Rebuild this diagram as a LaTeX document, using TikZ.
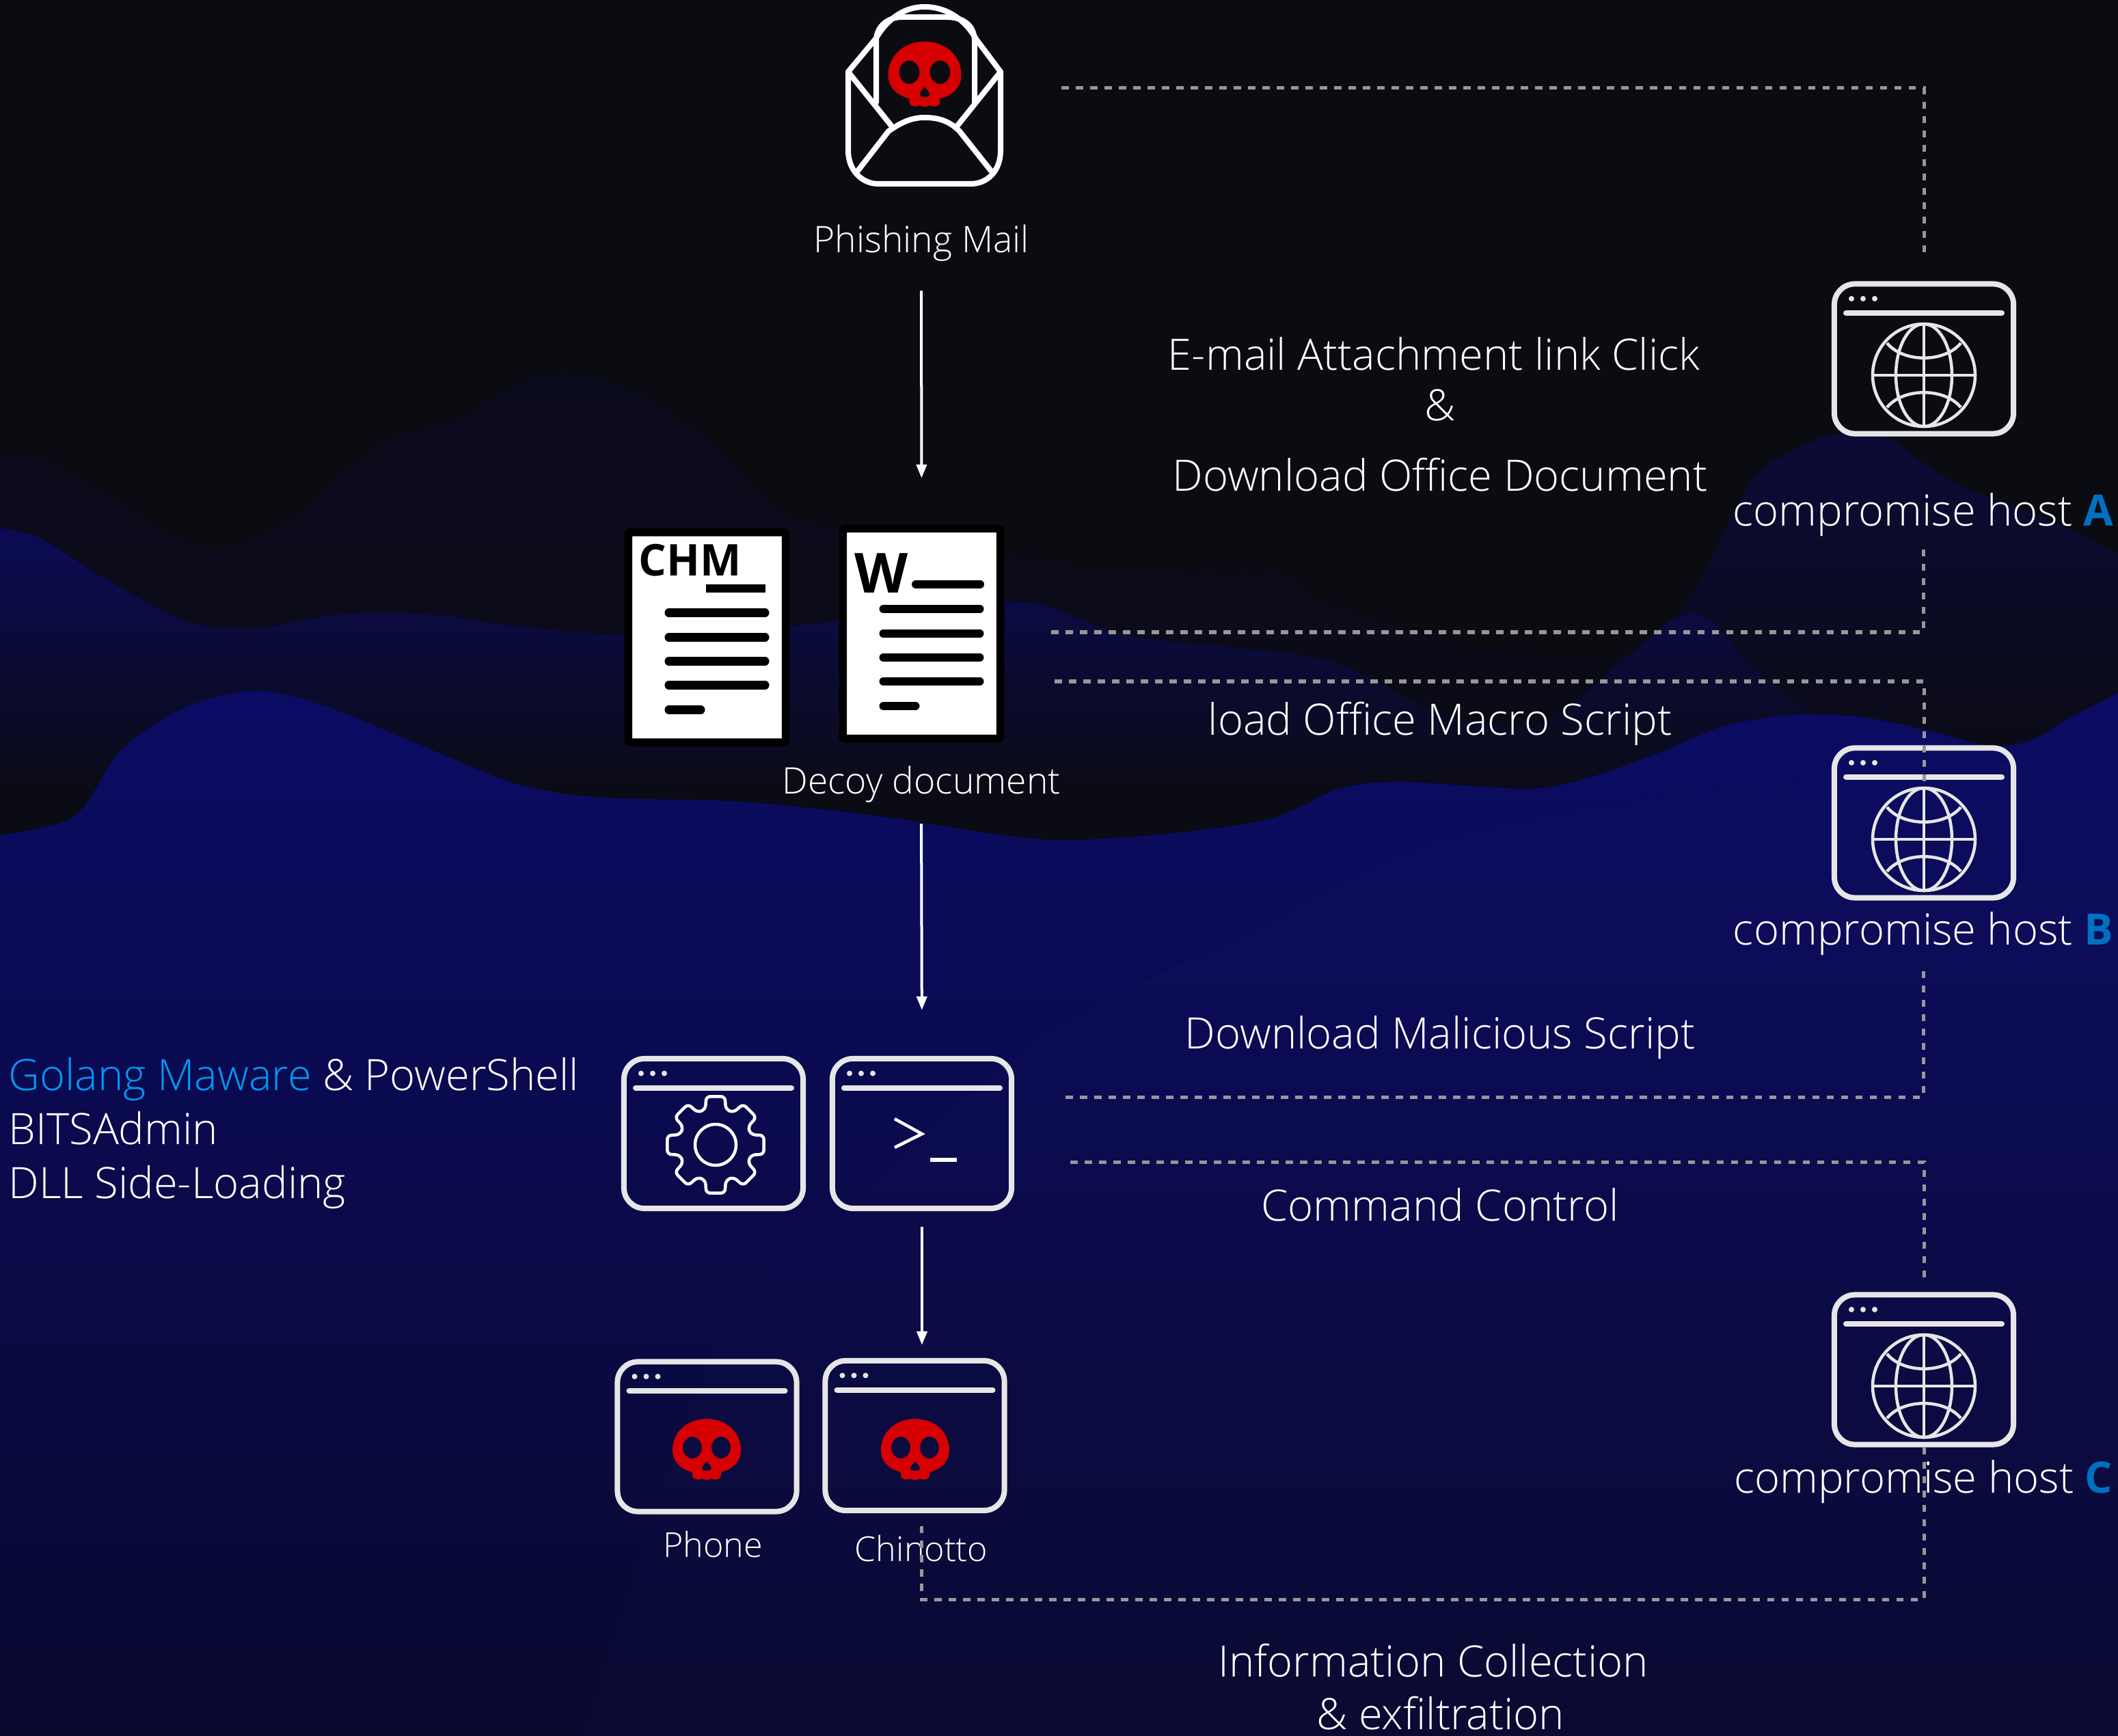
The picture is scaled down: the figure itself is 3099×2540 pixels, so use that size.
\documentclass[tikz,border=0pt]{standalone}
\usepackage{fontspec}
\setmainfont{Open Sans Light}[BoldFont={Open Sans Bold}]
\usepackage{xcolor}
\usetikzlibrary{arrows.meta,positioning}

\definecolor{basedark}{HTML}{0B0B12}
\definecolor{iconwhite}{HTML}{E6E6E6}
\definecolor{skullred}{HTML}{D60000}
\definecolor{dashgrey}{HTML}{979797}
\definecolor{hostblue}{HTML}{0070C0}
\definecolor{golangblue}{HTML}{0099F5}

\tikzset{
  bigtext/.style={text=white, inner sep=0pt, font=\fontsize{18}{22.4}\selectfont},
  smalltext/.style={text=white, inner sep=0pt, font=\fontsize{15.2}{19}\selectfont},
  tinytext/.style={text=white, inner sep=0pt, font=\fontsize{14.3}{19}\selectfont},
  winbox/.style={draw=iconwhite, line width=0.08cm, rounded corners=0.3cm, minimum width=2.62cm, minimum height=2.19cm, inner sep=0pt},
  docbox/.style={draw=black, fill=white, line width=0.115cm, rounded corners=0.03cm, minimum width=2.3cm, minimum height=3.07cm, inner sep=0pt},
  docline/.style={line width=0.12cm, line cap=round, black},
  dashline/.style={draw=dashgrey, line width=0.05cm, dash pattern=on 0.107cm off 0.103cm},
  flowarrow/.style={draw=white, line width=0.04cm, -{Triangle[length=0.2cm,width=0.15cm]}},
  wintop/.pic={
    \draw[iconwhite, line width=0.08cm, line cap=round] (-114,-67) -- (114,-67);
    \foreach \x in {-106,-89,-72} \fill[iconwhite] (\x,-88) circle (4);
  },
  globe/.pic={
    \begin{scope}[draw=iconwhite, line width=0.045cm]
    \draw (0,0) circle (75);
    \draw (0,0) ellipse [x radius=41, y radius=75];
    \draw (0,-75) -- (0,75);
    \draw (-75,0) -- (75,0);
    \draw (-54,-47) .. controls (-30,-18) and (30,-18) .. (54,-47);
    \draw (-54,47) .. controls (-30,18) and (30,18) .. (54,47);
    \end{scope}
  },
  gear/.pic={
    \draw[white, line width=0.045cm, rounded corners=0.06cm]
      (-11:72) -- (11:72) -- (16:54) -- (29:54)
      \foreach \a in {45,90,...,315} { -- (\a-11:72) -- (\a+11:72) -- (\a+16:54) -- (\a+29:54) } -- cycle;
    \draw[white, line width=0.045cm] (0,0) circle (30);
  },
  skull/.pic={
    \fill[skullred, even odd rule] (-50,0) .. controls (-50,-28) and (-27,-46) .. (0,-46)
      .. controls (27,-46) and (50,-28) .. (50,0) .. controls (50,17) and (37,28) .. (21,32)
      -- (21,36) .. controls (21,44) and (10,44) .. (7,41) .. controls (4,44) and (-4,44) .. (-7,41)
      .. controls (-10,44) and (-21,44) .. (-21,36) -- (-21,32)
      .. controls (-37,28) and (-50,17) .. (-50,0) -- cycle
      (-21,-4) ellipse [x radius=14, y radius=16]
      (21,-4) ellipse [x radius=14, y radius=16]
      (0,16) .. controls (4,20) and (7,24) .. (7,27) .. controls (7,31) and (-7,31) .. (-7,27) .. controls (-7,24) and (-4,20) .. (0,16) -- cycle;
  },
  doclines/.pic={
    \foreach \y in {-36,0,35,70} \draw[docline] (-56,\y) -- (85,\y);
    \draw[docline] (-56,106) -- (-9,106);
  }
}
\definecolor{hillfar}{HTML}{0B0B1E}
\definecolor{hillpeak}{HTML}{0B0B38}
\definecolor{hillmid}{HTML}{0B0B55}
\definecolor{hillmidlow}{HTML}{0B0B16}
\definecolor{hillfront}{HTML}{0B0B64}
\definecolor{hillfrontlow}{HTML}{0A0A28}
\definecolor{hillfrontend}{HTML}{090930}
\definecolor{hillnear}{HTML}{0C0C62}
\definecolor{hillnearlow}{HTML}{0A0A42}
\definecolor{hillnearend}{HTML}{0A0A32}

\begin{document}
\begin{tikzpicture}[x=0.01cm, y=-0.01cm]
\useasboundingbox (0,0) rectangle (3099,2540);

% background hills
\fill[basedark] (0,0) rectangle (3099,2540);
\fill[top color=hillfar, bottom color=basedark] plot[smooth] coordinates {(0,668) (60,668) (148,717) (297,801) (415,766) (494,696) (573,640) (672,611) (771,555) (850,548) (949,583) (1038,646) (1117,724) (1186,766) (1350,790) (1600,830) (1806,839) (1878,839) (1939,880) (2100,930) (2300,960) (3099,960)} -- (3099,1400) -- (0,1400) -- cycle;
\fill[top color=hillpeak, bottom color=basedark] plot[smooth] coordinates {(2380,1000) (2480,860) (2561,705) (2620,660) (2684,635) (2760,640) (2857,705) (3000,760) (3099,810)} -- (3099,1150) -- (2380,1150) -- cycle;
\fill[top color=hillmid, middle color=hillmidlow, bottom color=basedark] plot[smooth] coordinates {(0,773) (59,787) (148,843) (267,906) (366,920) (494,899) (633,899) (791,920) (1000,930) (1300,900) (1500,880) (1653,930) (1939,965) (2100,1040) (2250,1060) (2367,972) (2449,905) (2500,905) (2561,972) (2650,1040) (2800,1100) (3099,1100)} -- (3099,1180) -- (0,1180) -- cycle;
\fill[top color=hillfront, middle color=hillfrontlow, bottom color=hillfrontend] plot[smooth] coordinates {(0,1222) (109,1194) (178,1096) (277,1032) (376,1011) (474,1032) (613,1089) (751,1145) (870,1166) (1087,1173) (1285,1194) (1550,1229) (1837,1203) (1959,1154) (2051,1144) (2235,1154) (2316,1140) (2418,1105) (2520,1063) (2622,1046) (2724,1049) (2827,1070) (2908,1091) (2969,1084) (3031,1049) (3099,1014)} -- (3099,2540) -- (0,2540) -- cycle;
\fill[top color=hillnear, middle color=hillnearlow, bottom color=hillnearend] plot[smooth] coordinates {(850,2540) (1050,1950) (1200,1800) (1500,1530) (1806,1372) (2100,1230) (2400,1170) (2800,1130) (3099,1090)} -- (3099,2540) -- cycle;

% phishing mail
\draw[white, line width=0.08cm, line join=round, line cap=round]
  (1241,105) -- (1241,220) .. controls (1241,250) and (1262,269) .. (1285,269) -- (1420,269) .. controls (1445,269) and (1464,250) .. (1464,220) -- (1464,105)
  -- (1428,57) .. controls (1410,25) and (1381,10) .. (1353,10) .. controls (1325,10) and (1300,25) .. (1281,57) -- cycle;
\draw[white, line width=0.08cm, line cap=round]
  (1241,105) -- (1305,185)
  (1464,105) -- (1400,185)
  (1282,150) -- (1282,60) .. controls (1282,38) and (1300,25) .. (1320,25) -- (1385,25) .. controls (1410,25) and (1426,38) .. (1426,60) -- (1426,150)
  (1255,250) -- (1300,192) .. controls (1320,178) and (1335,172) .. (1353,172) .. controls (1375,172) and (1390,178) .. (1404,192) -- (1450,250);
\pic at (1353,110) [scale=1.07] {skull};
\node[smalltext] (phishlabel) at (1348,356) {Phishing Mail};

% decoy documents
\node[docbox] (docchm) at (1034.5,932.5) {};
\node[docbox] (docword) at (1348.5,927) {};
\pic at (1034.5,932.5) {doclines};
\pic at (1348.5,927) {doclines};
\draw[docline, line cap=butt] (1033,861) -- (1120,861);
\draw[docline] (1340,855) -- (1434,855);
\node[anchor=base west, inner sep=0pt, font=\fontsize{18.2}{20}\bfseries\selectfont] (chmtext) at (934,843) {CHM};
\node[anchor=base west, inner sep=0pt, font=\fontsize{23}{25}\bfseries\selectfont] (wordtext) at (1250,868) {W};
\node[smalltext] (decoylabel) at (1348,1148) {Decoy document};

% malware windows
\node[winbox] (gearwin) at (1044,1658.5) {};
\node[winbox] (termwin) at (1349,1658.5) {};
\node[winbox] (phonewin) at (1034.5,2102) {};
\node[winbox] (chinowin) at (1338.5,2100.5) {};
\foreach \w in {gearwin,termwin,phonewin,chinowin} \pic at (\w) {wintop};
\pic at (1047,1675) {gear};
\draw[white, line width=0.045cm] (1309,1637) -- (1349,1659) -- (1309,1679);
\draw[white, line width=0.06cm] (1361,1697) -- (1400,1697);
\pic at (1034,2122) {skull};
\pic at (1339,2122) {skull};
\node[tinytext] (phonelabel) at (1043,2260) {Phone};
\node[tinytext] (chinolabel) at (1348,2266) {Chinotto};
\node[bigtext, anchor=west, align=left] (toollabel) at (12,1658) {{\color{golangblue}Golang Maware} \& PowerShell\\BITSAdmin\\DLL Side-Loading};

% compromised hosts
\node[winbox] (hosta) at (2815,525) {};
\node[winbox] (hostb) at (2815,1204) {};
\node[winbox] (hostc) at (2815,2004) {};
\foreach \w in {hosta,hostb,hostc} {
\pic at (\w) {wintop};
\pic at ([yshift=-0.24cm]\w.center) {globe};
}
\node[bigtext] (labela) at (2814,753) {compromise host {\color{hostblue}\bfseries A}};
\node[bigtext] (labelb) at (2814,1366) {compromise host {\color{hostblue}\bfseries B}};
\node[bigtext] (labelc) at (2814,2168) {compromise host {\color{hostblue}\bfseries C}};

% step labels
\node[bigtext] (attachlabel) at (2098,518) {E-mail Attachment link Click};
\node[bigtext] (amplabel) at (2107,593) {\&};
\node[bigtext] (officelabel) at (2107,695) {Download Office Document};
\node[bigtext] (macrolabel) at (2107,1059) {load Office Macro Script};
\node[bigtext] (scriptlabel) at (2107,1518) {Download Malicious Script};
\node[bigtext] (c2label) at (2107,1763) {Command Control};
\node[bigtext] (infolabel) at (2097,2430) {Information Collection};
\node[bigtext] (exfillabel) at (2108,2507) {\& exfiltration};

% free ends of the dashed lines
\coordinate (mailout) at (1553,129);
\coordinate (docouta) at (1538,925);
\coordinate (docoutb) at (1543,997);
\coordinate (termouta) at (1559,1605);
\coordinate (termoutb) at (1566,1700);
\coordinate (exfilcorner) at (1348,2340);
\coordinate (chinoout) at (1348,2231);

\draw[flowarrow, shorten <=0.42cm, shorten >=0.68cm] (phishlabel.south) -- (docword.north);
\draw[flowarrow, shorten <=0.3cm, shorten >=0.67cm] (decoylabel.south) -- (termwin.north);
\draw[flowarrow, shorten <=0.23cm, shorten >=0.19cm] (termwin.south) -- (termwin.south |- chinowin.north);

\draw[dashline, shorten >=0.37cm] (mailout) -| (hosta.north);
\draw[dashline, shorten >=0.14cm] (docouta) -| (labela.south);
\draw[dashline, shorten >=0.54cm] (docoutb) -| (hostb.center);
\draw[dashline, shorten >=0.14cm] (termouta) -| (labelb.south);
\draw[dashline, shorten >=0.14cm] (termoutb) -| (hostc.north);
\draw[dashline] (hostc.south) |- (exfilcorner) -- (chinoout);
\end{tikzpicture}
\end{document}
